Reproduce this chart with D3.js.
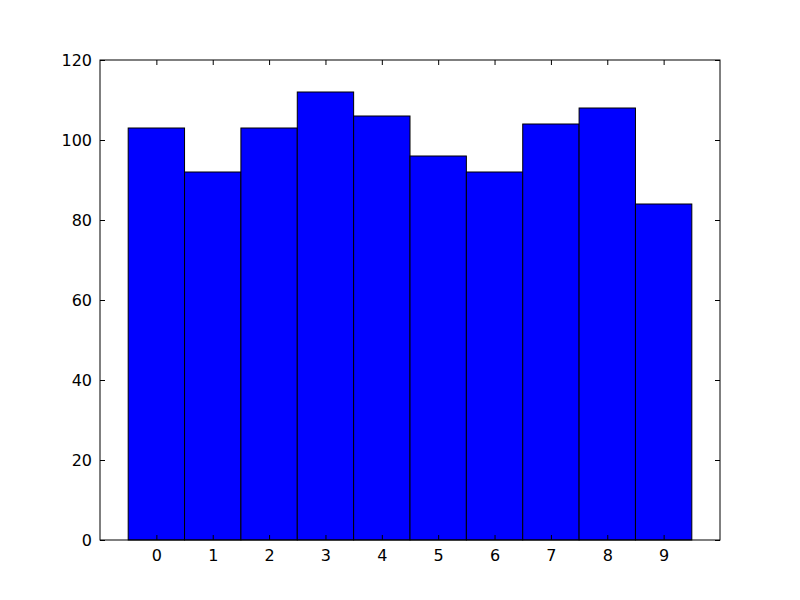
<!DOCTYPE html>
<html><head><meta charset="utf-8">
<script src="https://cdn.jsdelivr.net/npm/d3@7"></script>
<style>body{margin:0;background:#fff}</style>
</head><body>
<script>
const categories = [0,1,2,3,4,5,6,7,8,9];
const counts = [103, 92, 103, 112, 106, 96, 92, 104, 108, 84];
const yTicks = [0,20,40,60,80,100,120];

const W=800,H=600, m={left:100,right:80,top:60,bottom:60};
const svg=d3.select("body").append("svg").attr("width",W).attr("height",H);
svg.append("rect").attr("width",W).attr("height",H).attr("fill","#fff");
const x=d3.scaleLinear().domain([-1,10]).range([m.left,W-m.right]);
const y=d3.scaleLinear().domain([0,120]).range([H-m.bottom,m.top]);
const font="'DejaVu Sans', sans-serif";

svg.append("g").selectAll("rect").data(categories).join("rect")
  .attr("x",(d)=>x(d-0.5)).attr("width",(d)=>x(d+0.5)-x(d-0.5))
  .attr("y",(d,i)=>y(counts[i])).attr("height",(d,i)=>y(0)-y(counts[i]))
  .attr("fill","#0000ff").attr("stroke","#000").attr("stroke-width",1);

const tl=5;
const gBottom=svg.append("g").attr("transform",`translate(0,${H-m.bottom})`)
  .call(d3.axisBottom(x).tickValues(categories).tickSize(-tl).tickPadding(10).tickFormat(d3.format("d")));
const gTop=svg.append("g").attr("transform",`translate(0,${m.top})`)
  .call(d3.axisTop(x).tickValues(categories).tickSize(-tl).tickFormat(""));
const gLeft=svg.append("g").attr("transform",`translate(${m.left},0)`)
  .call(d3.axisLeft(y).tickValues(yTicks).tickSize(-tl).tickPadding(8).tickFormat(d3.format("d")));
const gRight=svg.append("g").attr("transform",`translate(${W-m.right},0)`)
  .call(d3.axisRight(y).tickValues(yTicks).tickSize(-tl).tickFormat(""));
[gBottom,gTop,gLeft,gRight].forEach(g=>{
  g.select(".domain").remove();
  g.selectAll("line").attr("stroke","#000");
  g.selectAll("text").attr("font-family",font).attr("font-size",16).attr("fill","#000");
});
svg.append("rect").attr("x",m.left).attr("y",m.top).attr("width",W-m.left-m.right).attr("height",H-m.top-m.bottom)
  .attr("fill","none").attr("stroke","#000").attr("stroke-width",1);
</script>
</body></html>
